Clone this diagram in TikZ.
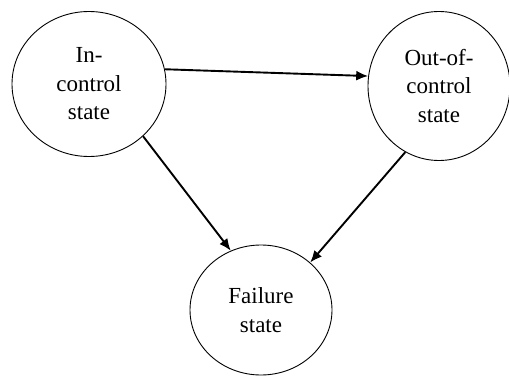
\documentclass[tikz,border=0pt]{standalone}
\usepackage{fontspec}
\setmainfont{Liberation Serif}
\usetikzlibrary{shapes.geometric,arrows.meta}
\newcommand{\stfont}{\fontsize{23}{28.5}\selectfont}
\begin{document}
\begin{tikzpicture}[x=1pt,y=1pt,
  stnode/.style={ellipse,draw,line width=0.9pt,inner sep=0pt,align=center,
    font=\stfont},
  arr/.style={line width=1.9pt,-{Latex[length=12pt,width=10pt]}}]
\useasboundingbox (0,0) rectangle (509,376);
\node[stnode,minimum width=154,minimum height=145] (in) at (89,292) {In-\\control\\state};
\node[stnode,minimum width=142,minimum height=149] (out) at (439,290) {Out-of-\\control\\state};
\node[stnode,minimum width=142,minimum height=130] (fail) at (261,66) {Failure\\state};
\draw[arr] (in.11) -- (out.172);
\draw[arr] (in.-44) -- (fail.117);
\draw[arr] (out.243) -- (fail.44);
\end{tikzpicture}
\end{document}
